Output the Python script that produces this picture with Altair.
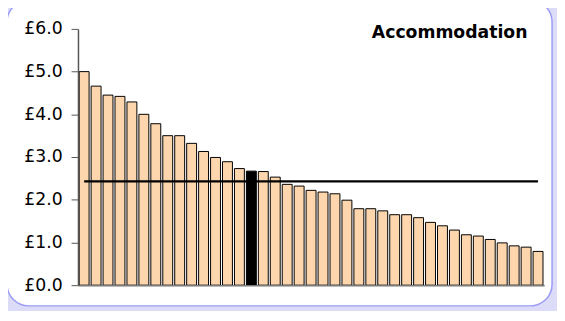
import altair as alt
import pandas as pd

# ---- data ----
areas = [f"Area {i+1:02d}" for i in range(39)]
costs = [5.00, 4.66, 4.45, 4.42, 4.29, 4.00, 3.78, 3.50, 3.50, 3.32,
         3.13, 2.99, 2.89, 2.73, 2.67, 2.66, 2.53, 2.36, 2.32, 2.22,
         2.18, 2.14, 1.99, 1.79, 1.79, 1.74, 1.65, 1.65, 1.58, 1.47,
         1.39, 1.29, 1.18, 1.15, 1.07, 0.99, 0.92, 0.89, 0.79]
highlighted_area = "Area 15"
average_cost = [2.43]
y_ticks = [0, 1, 2, 3, 4, 5, 6]
chart_title = ["Accommodation"]

df = pd.DataFrame({"area": areas, "cost": costs})
df["hl"] = df["area"] == highlighted_area
avg_df = pd.DataFrame({"avg": average_cost, "start": [areas[0]], "end": [areas[-1]]})
title_df = pd.DataFrame({"t": chart_title})

W, H = 473, 260
FONT = "DejaVu Sans"

x_scale = alt.Scale(domain=areas, paddingInner=0.17, paddingOuter=0.1)
y_scale = alt.Scale(domain=[0, 6], nice=False)

panel = alt.Chart(pd.DataFrame({"p": [0]})).mark_rect(
    fill="white", stroke="#9c9cf4", strokeWidth=1.5, cornerRadius=22
).encode(
    x=alt.value(-72), x2=alt.value(W + 8),
    y=alt.value(-29), y2=alt.value(H + 21),
)

bars = alt.Chart(df).mark_bar(stroke="black", strokeWidth=1).encode(
    x=alt.X("area:N", scale=x_scale, sort=areas,
            axis=alt.Axis(labels=False, ticks=False, title=None, zindex=1,
                          domainColor="#7a7a7a", domainWidth=1.5)),
    y=alt.Y("cost:Q", scale=y_scale,
            axis=alt.Axis(values=y_ticks, title=None, grid=False, zindex=1,
                          labelExpr="'£' + format(datum.value, '.1f')",
                          labelFont=FONT, labelFontSize=17.5, labelColor="black",
                          labelPadding=9, tickSize=7, tickColor="#555555",
                          domainColor="#555555", domainWidth=1.5)),
    color=alt.condition("datum.hl", alt.value("black"), alt.value("#fdd6ad")),
)

avg = alt.Chart(avg_df).mark_rule(color="black", strokeWidth=2.2).encode(
    x=alt.X("start:N", scale=x_scale),
    x2="end:N",
    y=alt.Y("avg:Q", scale=y_scale),
)

title = alt.Chart(title_df).mark_text(
    font=FONT, fontSize=17.5, fontWeight="bold", color="black",
    align="right", baseline="alphabetic"
).encode(x=alt.value(W - 17), y=alt.value(9), text="t:N")

chart = alt.layer(panel, bars, avg, title).properties(
    width=W, height=H,
    autosize="none",
    padding={"left": 71, "top": 19, "right": 13, "bottom": 24},
    background="#dcdcf8",
).configure_view(stroke=None)

chart.save("out.html", embed_options={"renderer": "svg", "actions": False})
